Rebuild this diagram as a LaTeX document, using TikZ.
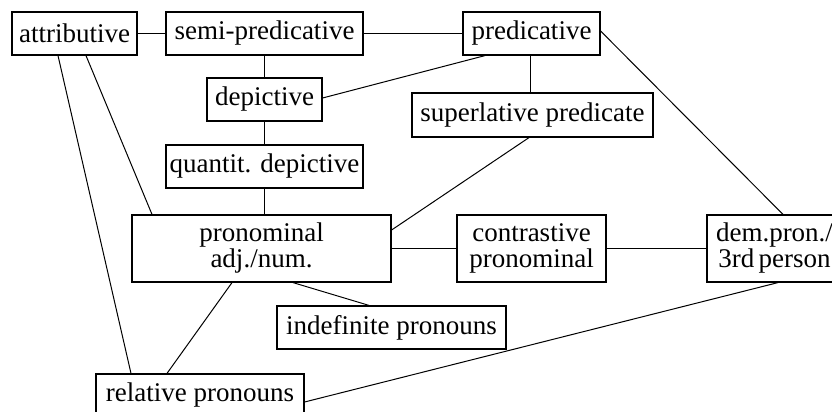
\documentclass[tikz,border=0pt]{standalone}
\usepackage{fontspec}
\setmainfont{Liberation Serif}
\usetikzlibrary{calc}
\begin{document}
\begin{tikzpicture}[x=0.5pt,y=-0.5pt,
  box/.style={draw,line width=0.6pt,inner sep=0pt,align=center,font=\fontsize{13.5}{13}\selectfont},
  link/.style={line width=0.5pt}]
\useasboundingbox (0,0) rectangle (832,412);
\clip (0,0) rectangle (832,412);
\node[box,minimum width=62.5pt,minimum height=21.5pt] (attr) at (74.5,33.5) {attributive};
\node[box,minimum width=98.5pt,minimum height=21.5pt] (semi) at (264.5,33.5) {semi-predicative};
\node[box,minimum width=68.5pt,minimum height=21.5pt] (pred) at (531.5,33.5) {predicative};
\node[box,minimum width=57.5pt,minimum height=21.5pt] (dep) at (264.5,99.5) {depictive};
\node[box,minimum width=98.5pt,minimum height=21.5pt] (quant) at (264.5,166.5) {quantit. depictive};
\node[box,minimum width=120.5pt,minimum height=22pt] (super) at (532.5,115) {superlative predicate};
\node[box,minimum width=129.5pt,minimum height=33.5pt] (pron) at (261.5,248.5) {pronominal\\adj./num.};
\node[box,minimum width=74.5pt,minimum height=33.5pt] (contr) at (531.5,248.5) {contrastive\\pronominal};
\node[box,minimum width=67.5pt,minimum height=33.5pt] (dem) at (774.5,248.5) {dem.pron./\\3rd\,person};
\node[box,minimum width=114.5pt,minimum height=21.5pt] (indef) at (391.5,327.5) {indefinite pronouns};
\node[box,minimum width=104pt,minimum height=21.5pt] (rel) at (200,395.5) {relative pronouns};
\draw[link] (attr) -- (semi);
\draw[link] (semi) -- (pred);
\draw[link] (semi) -- (dep);
\draw[link] (dep) -- (quant);
\draw[link] (quant.south) -- (quant.south |- pron.north);
\draw[link] ($(pred.south)+(-1.5,0)$) -- ($(super.north)+(-2.5,0)$);
\draw[link] ($(dep.east)+(0,-1.5)$) -- ($(pred.south)+(-46.5,0)$);
\draw[link] ($(super.south)+(-3.5,0)$) -- ($(pron.east)+(0,-18.5)$);
\draw[link] ($(pred.east)+(0,-2.5)$) -- ($(dem.north)+(8.5,0)$);
\draw[link] ($(attr.south)+(11.5,0)$) -- ($(pron.north)+(-109.5,0)$);
\draw[link] ($(attr.south)+(-16.5,0)$) -- ($(rel.north)+(-69,0)$);
\draw[link] (pron) -- (contr);
\draw[link] (contr) -- (dem);
\draw[link] ($(pron.south)+(31.5,0)$) -- ($(indef.north)+(-22.5,0)$);
\draw[link] ($(pron.south)+(-29.5,0)$) -- ($(rel.north)+(-33,0)$);
\draw[link] ($(dem.south)+(3.5,0)$) -- ($(rel.east)+(0,6.5)$);
\end{tikzpicture}
\end{document}
